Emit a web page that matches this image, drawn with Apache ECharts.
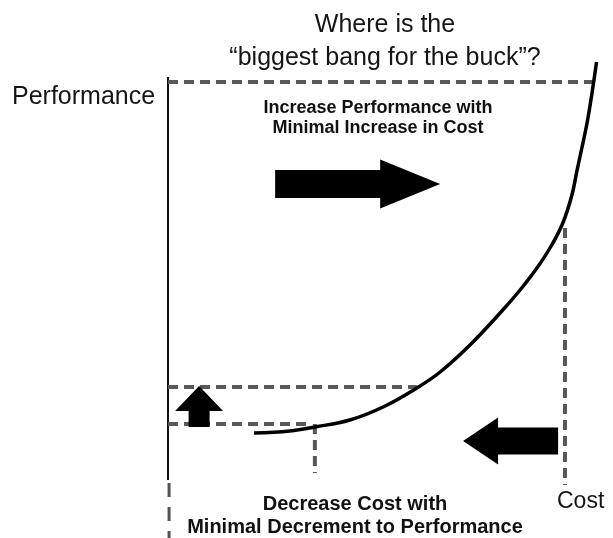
<!DOCTYPE html>
<html>
<head>
<meta charset="utf-8">
<script src="https://cdn.jsdelivr.net/npm/echarts@6/dist/echarts.min.js"></script>
<style>
  html, body { margin: 0; padding: 0; background: #fff; }
  #chart { width: 613px; height: 538px; }
</style>
</head>
<body>
<div id="chart"></div>
<script>
// cost (x) vs performance (y), arbitrary units 0..100
const perfAxis = [[0, 0], [0, 100.75]]
const axisTail = [[0.25, -0.75], [0.25, -14.5]]

const costCurve = [
  [19.9, 11.75], [28.2, 12.25], [34.0, 13.25], [42.1, 15.0], [49.8, 18.25],
  [57.6, 23.0], [63.0, 27.0], [69.9, 33.75], [77.5, 42.5], [81.5, 47.5],
  [85.4, 53.0], [88.7, 58.5], [91.4, 64.25], [93.5, 71.25], [94.7, 77.5],
  [95.8, 83.0], [97.0, 89.25], [97.9, 95.0], [98.6, 100.0], [99.2, 104.5]
]

// dashed guide lines
const guides = [
  [[0, 99.5], [98.2, 99.5]],
  [[0, 23.25], [57.6, 23.25]],
  [[0, 14], [32.5, 14]],
  [[34.0, 14], [34.0, 1.75]],
  [[91.9, 63], [91.9, -1.25]]
]

// arrows: [fromX, fromY, toX, toY]
const arrows = [
  [24.8, 74, 63.0, 74],
  [90.3, 9.75, 68.3, 9.75],
  [7.2, 13.25, 7.2, 23.5]
]
// arrow sizes in px: shaft half width, head half width, head length
const arrowSizes = [
  [14, 24.5, 60],
  [13.5, 23.5, 35],
  [10.5, 24, 25]
]

const chart = echarts.init(document.getElementById('chart'))

const lineBase = {
  type: 'line',
  symbol: 'none',
  silent: true,
  clip: false,
  z: 2
}

const series = [
  Object.assign({}, lineBase, {
    data: perfAxis,
    lineStyle: { color: '#111', width: 2 }
  }),
  Object.assign({}, lineBase, {
    data: axisTail,
    lineStyle: { color: '#555', width: 3, type: [14, 10] }
  }),
  {
    // the cost curve, one smooth polyline through all points
    type: 'custom',
    silent: true,
    z: 3,
    data: costCurve,
    renderItem: function (params, api) {
      if (params.dataIndex !== 0) return null
      const pts = costCurve.map((p) => api.coord(p))
      return {
        type: 'polyline',
        shape: { points: pts, smooth: 0.4 },
        style: { stroke: '#000', lineWidth: 3.5, fill: null }
      }
    }
  }
]

guides.forEach((g) => {
  series.push(Object.assign({}, lineBase, {
    data: g,
    lineStyle: { color: '#585858', width: 4, type: [10, 6] }
  }))
})

series.push({
  type: 'custom',
  silent: true,
  z: 4,
  data: arrows,
  renderItem: function (params, api) {
    const p0 = api.coord([api.value(0), api.value(1)])
    const p1 = api.coord([api.value(2), api.value(3)])
    const size = arrowSizes[params.dataIndex]
    const dx = p1[0] - p0[0]
    const dy = p1[1] - p0[1]
    const len = Math.sqrt(dx * dx + dy * dy)
    const ux = dx / len
    const uy = dy / len
    const nx = -uy
    const ny = ux
    const bx = p1[0] - ux * size[2]
    const by = p1[1] - uy * size[2]
    const s = size[0]
    const h = size[1]
    return {
      type: 'polygon',
      shape: {
        points: [
          [p0[0] + nx * s, p0[1] + ny * s],
          [bx + nx * s, by + ny * s],
          [bx + nx * h, by + ny * h],
          [p1[0], p1[1]],
          [bx - nx * h, by - ny * h],
          [bx - nx * s, by - ny * s],
          [p0[0] - nx * s, p0[1] - ny * s]
        ]
      },
      style: { fill: '#000' }
    }
  }
})

const font = 'Liberation Sans, Arial, sans-serif'

chart.setOption({
  animation: false,
  backgroundColor: '#fff',
  grid: { left: 168, width: 432, top: 40, bottom: 0 },
  xAxis: { type: 'value', min: 0, max: 100, show: false },
  yAxis: { type: 'value', min: -14.5, max: 110, show: false },
  graphic: [
    {
      type: 'text',
      style: {
        text: 'Where is the\n\u201cbiggest bang for the buck\u201d?',
        x: 385, y: 9, align: 'center', verticalAlign: 'top',
        font: '25px ' + font, lineHeight: 33, fill: '#151515'
      }
    },
    {
      type: 'text',
      style: {
        text: 'Performance', x: 12, y: 97, verticalAlign: 'middle',
        font: '25px ' + font, fill: '#151515'
      }
    },
    {
      type: 'text',
      style: {
        text: 'Increase Performance with\nMinimal Increase in Cost',
        x: 378, y: 98, align: 'center', verticalAlign: 'top',
        font: 'bold 18px ' + font, lineHeight: 20, fill: '#111'
      }
    },
    {
      type: 'text',
      style: {
        text: 'Decrease Cost with\nMinimal Decrement to Performance',
        x: 355, y: 493, align: 'center', verticalAlign: 'top',
        font: 'bold 20px ' + font, lineHeight: 23, fill: '#111'
      }
    },
    {
      type: 'text',
      style: {
        text: 'Cost', x: 557, y: 502, verticalAlign: 'middle',
        font: '23px ' + font, fill: '#151515'
      }
    }
  ],
  series: series
})
</script>
</body>
</html>
